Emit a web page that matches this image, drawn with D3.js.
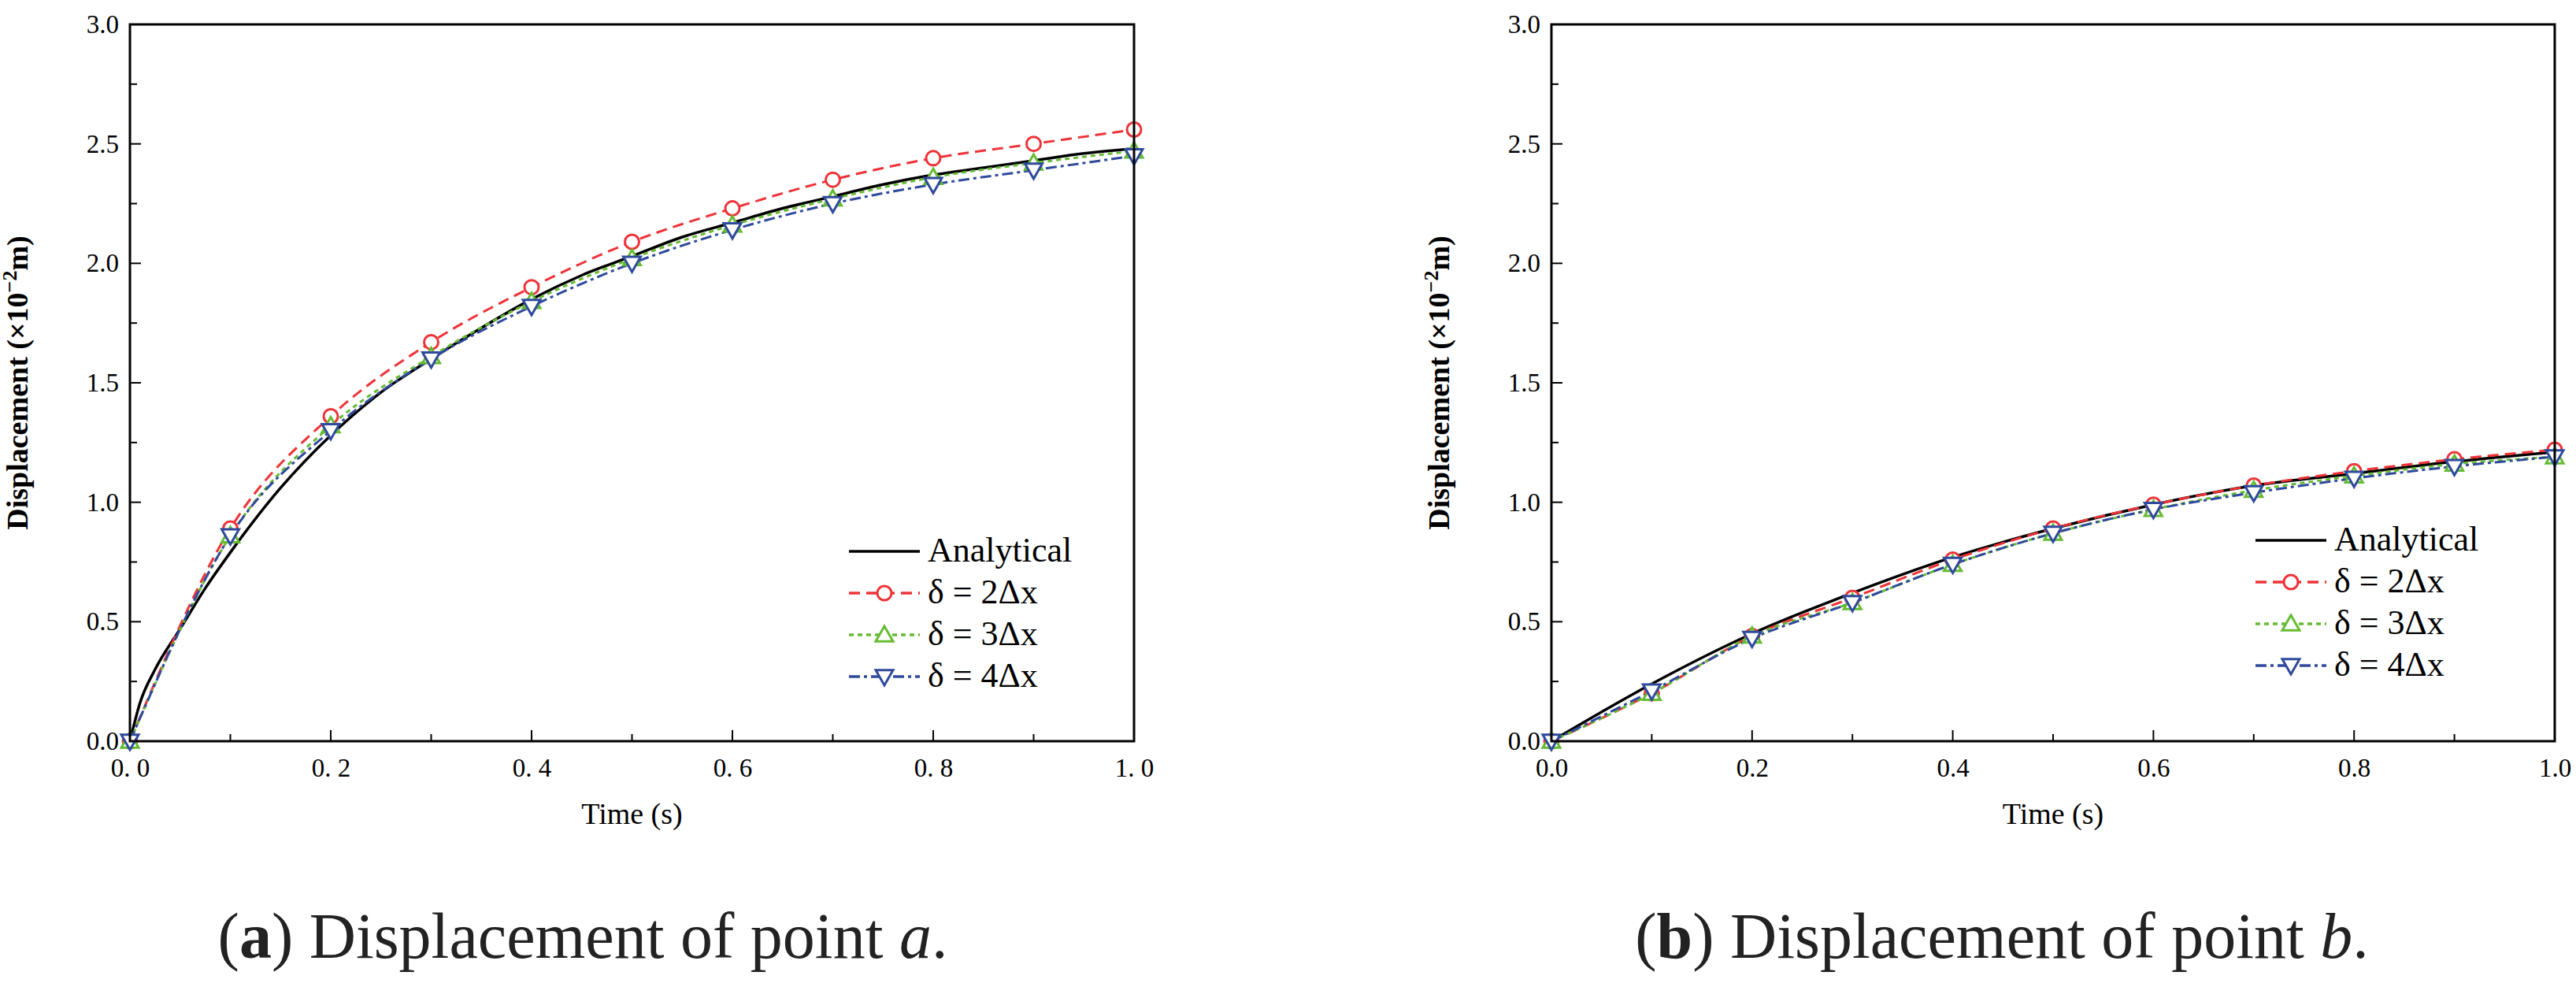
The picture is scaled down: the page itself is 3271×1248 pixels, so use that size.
<!DOCTYPE html>
<html><head><meta charset="utf-8">
<script src="https://cdn.jsdelivr.net/npm/d3@7"></script>
<style>body{margin:0;background:#fff}svg{display:block}text{font-family:"Liberation Serif","Times New Roman",Tinos,"DejaVu Serif"}</style>
</head><body><svg id="c" width="3271" height="1248"></svg>
<script>
// Data
const times = [0, 0.1, 0.2, 0.3, 0.4, 0.5, 0.6, 0.7, 0.8, 0.9, 1.0];
const denseTimesA = [0, 0.01, 0.025, 0.05, 0.075, 0.1, 0.15, 0.2, 0.25, 0.3, 0.35, 0.4, 0.45, 0.5, 0.55, 0.6, 0.65, 0.7, 0.75, 0.8, 0.85, 0.9, 0.95, 1.0];
const analyticalA = [0, 0.16, 0.3, 0.47, 0.64, 0.79, 1.06, 1.28, 1.46, 1.6, 1.73, 1.85, 1.95, 2.03, 2.11, 2.17, 2.23, 2.28, 2.33, 2.37, 2.40, 2.43, 2.46, 2.48];
const delta2A = [0, 0.89, 1.36, 1.67, 1.90, 2.09, 2.23, 2.35, 2.44, 2.50, 2.56];
const delta3A = [0, 0.86, 1.32, 1.61, 1.84, 2.02, 2.16, 2.27, 2.36, 2.42, 2.47];
const delta4A = [0, 0.86, 1.30, 1.60, 1.82, 2.00, 2.14, 2.25, 2.33, 2.39, 2.45];
const analyticalB = [0, 0.24, 0.45, 0.62, 0.77, 0.89, 0.99, 1.07, 1.12, 1.17, 1.21];
const delta2B = [0, 0.20, 0.44, 0.60, 0.76, 0.89, 0.99, 1.07, 1.13, 1.18, 1.22];
const delta3B = [0, 0.20, 0.44, 0.58, 0.74, 0.87, 0.97, 1.05, 1.11, 1.16, 1.19];
const delta4B = [0, 0.21, 0.43, 0.58, 0.74, 0.87, 0.97, 1.04, 1.10, 1.15, 1.19];
const xTicks = [0, 0.2, 0.4, 0.6, 0.8, 1.0];
const yTicks = [0, 0.5, 1.0, 1.5, 2.0, 2.5, 3.0];
const legendLabels = ["Analytical", "δ = 2Δx", "δ = 3Δx", "δ = 4Δx"];

const styles = [
  {color: "#000", dash: null, marker: null},
  {color: "#ee3338", dash: "14,8", marker: "circle"},
  {color: "#66bb33", dash: "6,5", marker: "up"},
  {color: "#2f4a9c", dash: "14,5,4,5", marker: "down"}
];

const serif = '"Liberation Serif","Times New Roman",Tinos,"DejaVu Serif"';
const svg = d3.select("#c");

function marker(g, type, x, y, color) {
  if (type === "circle") {
    g.append("circle").attr("cx", x).attr("cy", y).attr("r", 9)
      .attr("fill", "#fff").attr("stroke", color).attr("stroke-width", 3);
  } else {
    const s = 11, d = type === "up" ? -1 : 1;
    g.append("path")
      .attr("d", `M${x},${y + d * s} L${x - s},${y - d * s * 0.75} L${x + s},${y - d * s * 0.75} Z`)
      .attr("fill", "#fff").attr("stroke", color).attr("stroke-width", 3);
  }
}

function panel(opt) {
  const x = d3.scaleLinear().domain([0, 1]).range([opt.x0, opt.x1]);
  const y = d3.scaleLinear().domain([0, 3]).range([941, 31]);
  const g = svg.append("g");

  const fmt = opt.spaced ? (d => d3.format(".1f")(d).replace(".", ". ")) : d3.format(".1f");

  g.append("g").attr("transform", `translate(0,${y(0)})`)
    .call(d3.axisBottom(x).tickValues(xTicks).tickSize(0).tickPadding(22).tickFormat(fmt))
    .call(a => a.select(".domain").remove())
    .call(a => a.attr("font-family", serif))
    .selectAll("text").attr("font-size", 33).attr("fill", "#000");
  g.append("g").attr("transform", `translate(${opt.x0},0)`)
    .call(d3.axisLeft(y).tickValues(yTicks).tickSize(0).tickPadding(14).tickFormat(d3.format(".1f")))
    .call(a => a.select(".domain").remove())
    .call(a => a.attr("font-family", serif))
    .selectAll("text").attr("font-size", 33).attr("fill", "#000");

  // inward ticks
  d3.range(1, 10).forEach(i => {
    const len = i % 2 === 0 ? 14 : 9;
    g.append("line").attr("x1", x(i / 10)).attr("x2", x(i / 10))
      .attr("y1", y(0)).attr("y2", y(0) - len).attr("stroke", "#000").attr("stroke-width", 2);
  });
  d3.range(1, 12).forEach(i => {
    const len = i % 2 === 0 ? 14 : 9;
    g.append("line").attr("x1", opt.x0).attr("x2", opt.x0 + len)
      .attr("y1", y(i * 0.25)).attr("y2", y(i * 0.25)).attr("stroke", "#000").attr("stroke-width", 2);
  });

  const lineGen = d3.line().x(d => x(d[0])).y(d => y(d[1])).curve(d3.curveMonotoneX);
  opt.series.forEach((s, i) => {
    const st = styles[i];
    g.append("path").datum(s.t.map((t, k) => [t, s.v[k]]))
      .attr("d", lineGen).attr("fill", "none").attr("stroke", st.color)
      .attr("stroke-width", i === 0 ? 3.5 : 3).attr("stroke-dasharray", st.dash);
  });
  opt.series.forEach((s, i) => {
    const st = styles[i];
    if (st.marker) s.t.forEach((t, k) => marker(g, st.marker, x(t), y(s.v[k]), st.color));
  });

  g.append("rect").attr("x", opt.x0).attr("y", y(3)).attr("width", opt.x1 - opt.x0)
    .attr("height", y(0) - y(3)).attr("fill", "none").attr("stroke", "#000").attr("stroke-width", 3);

  // legend
  legendLabels.forEach((lab, i) => {
    const ly = opt.legY + i * opt.legStep;
    const st = styles[i];
    g.append("line").attr("x1", opt.legX).attr("x2", opt.legX + 90).attr("y1", ly).attr("y2", ly)
      .attr("stroke", st.color).attr("stroke-width", 3.5).attr("stroke-dasharray", st.dash);
    if (st.marker) marker(g, st.marker, opt.legX + 45, ly, st.color);
    g.append("text").attr("x", opt.legX + 100).attr("y", ly + 13).attr("font-size", 44)
      .attr("font-family", serif).text(lab);
  });

  g.append("text").attr("x", (opt.x0 + opt.x1) / 2).attr("y", 1046).attr("text-anchor", "middle")
    .attr("font-family", serif).attr("font-size", 38).text("Time (s)");
  const yt = g.append("text").attr("transform", `translate(${opt.x0 - 130},${y(1.5)}) rotate(-90)`)
    .attr("text-anchor", "middle").attr("font-size", 38).attr("font-weight", "bold").attr("font-family", serif);
  yt.append("tspan").text("Displacement (×10");
  yt.append("tspan").attr("font-size", 26).attr("dy", -14).text("−2");
  yt.append("tspan").attr("dy", 14).text("m)");

  const cap = g.append("text").attr("x", opt.capX).attr("y", 1216).attr("text-anchor", "middle")
    .attr("font-size", 82).attr("font-family", "DejaVu Serif").attr("fill", "#222");
  cap.append("tspan").text("(");
  cap.append("tspan").attr("font-weight", "bold").text(opt.letter);
  cap.append("tspan").text(") Displacement of point ");
  cap.append("tspan").attr("font-style", "italic").text(opt.point);
  cap.append("tspan").text(".");
}

panel({x0: 165, x1: 1440, spaced: true, legX: 1078, legY: 700, legStep: 53, capX: 740, letter: "a", point: "a",
  series: [{t: denseTimesA, v: analyticalA}, {t: times, v: delta2A}, {t: times, v: delta3A}, {t: times, v: delta4A}]});
panel({x0: 1970, x1: 3244, spaced: false, legX: 2864, legY: 686, legStep: 53, capX: 2542, letter: "b", point: "b",
  series: [{t: times, v: analyticalB}, {t: times, v: delta2B}, {t: times, v: delta3B}, {t: times, v: delta4B}]});
</script></body></html>
